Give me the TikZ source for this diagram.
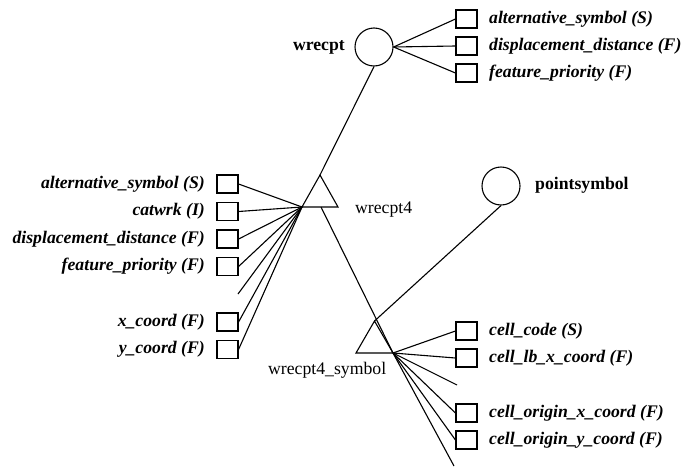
\documentclass[tikz,border=0pt]{standalone}
\usepackage{fontspec}
\setmainfont{Liberation Serif}
\begin{document}
\begin{tikzpicture}[x=1pt,y=-1pt,
  every node/.style={font=\fontsize{17.7}{20}\selectfont},
  conn/.style={line width=1.1pt},
  attrbox/.style={draw, line width=1.1pt, minimum width=21pt, minimum height=18pt, inner sep=0pt},
  cls/.style={draw, circle, line width=1.1pt, minimum size=38pt, inner sep=0pt},
  lab/.style={font=\fontsize{17.7}{20}\selectfont\bfseries\itshape, inner sep=0pt},
  clsname/.style={font=\fontsize{17.7}{20}\selectfont\bfseries, inner sep=0pt},
  subname/.style={inner sep=0pt},
]
\useasboundingbox (0,0) rectangle (682,466);

% class wrecpt
\node[cls] (wrecpt) at (374,47) {};
\node[clsname, anchor=east] (wrecptlab) at (345,47) {wrecpt};
\node[attrbox] (a1) at (466.5,19) {};
\node[attrbox] (a2) at (466.5,46) {};
\node[attrbox] (a3) at (466.5,73) {};
\node[lab, anchor=west] (a1l) at (489,19) {alternative\_symbol (S)};
\node[lab, anchor=west] (a2l) at (489,46) {displacement\_distance (F)};
\node[lab, anchor=west] (a3l) at (489,73) {feature\_priority (F)};
\foreach \b in {a1,a2,a3} \draw[conn] (wrecpt.east) -- (\b.west);

% subclass wrecpt4
\coordinate (t1a) at (320,175);
\coordinate (t1l) at (302,207);
\coordinate (t1r) at (338,207);
\coordinate (t1m) at (321,207);
\draw[conn] (t1l) -- (t1a) -- (t1r) -- cycle;
\node[subname, anchor=west] (t1lab) at (355,210) {wrecpt4};
\draw[conn] (wrecpt.south) -- (t1a);

\node[attrbox] (b1) at (227.5,184) {};
\node[attrbox] (b2) at (227.5,211.5) {};
\node[attrbox] (b3) at (227.5,239) {};
\node[attrbox] (b4) at (227.5,266.5) {};
\coordinate (b5) at (238,294);
\node[attrbox] (b6) at (227.5,322) {};
\node[attrbox] (b7) at (227.5,349.5) {};
\node[lab, anchor=east] (b1l) at (205,184) {alternative\_symbol (S)};
\node[lab, anchor=east] (b2l) at (205,211.5) {catwrk (I)};
\node[lab, anchor=east] (b3l) at (205,239) {displacement\_distance (F)};
\node[lab, anchor=east] (b4l) at (205,266.5) {feature\_priority (F)};
\node[lab, anchor=east] (b6l) at (205,322) {x\_coord (F)};
\node[lab, anchor=east] (b7l) at (205,349.5) {y\_coord (F)};
\foreach \b in {b1,b2,b3,b4,b6,b7} \draw[conn] (t1l) -- (\b.east);
\draw[conn] (t1l) -- (b5);

% class pointsymbol
\node[cls] (pts) at (501,186) {};
\node[clsname, anchor=west] (ptslab) at (535,185) {pointsymbol};

% subclass wrecpt4_symbol
\coordinate (t2a) at (374.5,321);
\coordinate (t2l) at (356,353);
\coordinate (t2r) at (393,353);
\draw[conn] (t2l) -- (t2a) -- (t2r) -- cycle;
\node[subname, anchor=west] (t2lab) at (268,370) {wrecpt4\_symbol};
\draw[conn] (t1m) -- (t2r);
\draw[conn] (pts.south) -- (t2a);

\node[attrbox] (c1) at (466.5,331) {};
\node[attrbox] (c2) at (466.5,358) {};
\coordinate (c3) at (457,385);
\node[attrbox] (c4) at (466.5,413) {};
\node[attrbox] (c5) at (466.5,440) {};
\coordinate (c6) at (454,466);
\node[lab, anchor=west] (c1l) at (489,331) {cell\_code (S)};
\node[lab, anchor=west] (c2l) at (489,358) {cell\_lb\_x\_coord (F)};
\node[lab, anchor=west] (c4l) at (489,413) {cell\_origin\_x\_coord (F)};
\node[lab, anchor=west] (c5l) at (489,440) {cell\_origin\_y\_coord (F)};
\foreach \b in {c1,c2,c4,c5} \draw[conn] (t2r) -- (\b.west);
\draw[conn] (t2r) -- (c3);
\draw[conn] (t2r) -- (c6);
\end{tikzpicture}
\end{document}
